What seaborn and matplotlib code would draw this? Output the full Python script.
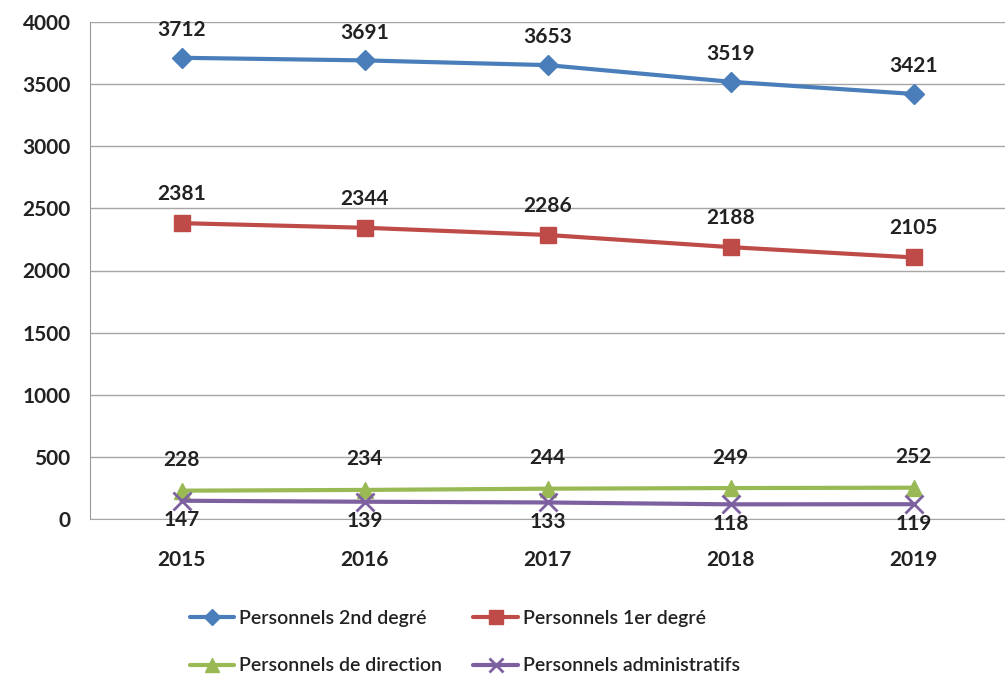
import numpy as np
import pandas as pd
import matplotlib
matplotlib.use("Agg")
import matplotlib.pyplot as plt
import seaborn as sns

years = ["2015", "2016", "2017", "2018", "2019"]
second_degre = [3712, 3691, 3653, 3519, 3421]
premier_degre = [2381, 2344, 2286, 2188, 2105]
direction = [228, 234, 244, 249, 252]
administratifs = [147, 139, 133, 118, 119]

series_names = ["Personnels 2nd degré", "Personnels 1er degré",
                "Personnels de direction", "Personnels administratifs"]

sns.set_style("white")
plt.rcParams["font.family"] = ["Lato", "DejaVu Sans"]

fig = plt.figure(figsize=(10.05, 6.77), dpi=100)
ax = fig.add_axes([90 / 1005, 1 - 519 / 677, 1 - 90 / 1005, (519 - 22) / 677])

x = np.arange(len(years))
styles = [
    (second_degre, "#4a7ebb", "D", 10, 1.0, 20),
    (premier_degre, "#be4b48", "s", 12, 1.0, 21),
    (direction, "#98b954", "^", 12, 1.0, 22),
    (administratifs, "#7d60a0", "x", 13, 2.0, -14),
]

handles = []
for (vals, color, marker, ms, mew, offset), name in zip(styles, series_names):
    df = pd.DataFrame({"x": x, "y": vals})
    sns.lineplot(data=df, x="x", y="y", ax=ax, color=color, linewidth=3,
                 marker=marker, markersize=ms, markeredgewidth=mew,
                 markeredgecolor=color, label=name, legend=False)
    for xi, v in zip(x, vals):
        ax.annotate(str(v), (xi, v), xytext=(0, offset), textcoords="offset points",
                    ha="center", va="center", fontsize=15, fontweight="bold",
                    color="#222222")
    handles.append(ax.lines[-1])

ax.set_xlim(-0.5, 4.5)
ax.set_ylim(0, 4000)
ax.set_yticks(range(0, 4001, 500))
ax.set_xticks(x)
ax.set_xticklabels(years)
ax.set_xticks(np.arange(-0.5, 4.6, 1), minor=True)
ax.tick_params(axis="x", which="major", length=0, pad=22)
ax.tick_params(axis="x", which="minor", length=6, color="#999999")
ax.tick_params(axis="y", length=8, color="#999999", pad=6)
for lab in ax.get_xticklabels() + ax.get_yticklabels():
    lab.set_fontsize(15)
    lab.set_fontweight("bold")
    lab.set_color("#222222")
ax.set_xlabel("")
ax.set_ylabel("")
ax.grid(axis="y", color="#a6a6a6", linewidth=1)
for side in ["top", "right"]:
    ax.spines[side].set_visible(False)
ax.spines["left"].set_color("#999999")
ax.spines["bottom"].set_color("#a6a6a6")

order = [0, 2, 1, 3]
leg = fig.legend([handles[i] for i in order], [series_names[i] for i in order],
                 loc="lower left", bbox_to_anchor=(172 / 1005, -0.022), ncol=2,
                 frameon=False, fontsize=14, handlelength=2.3, columnspacing=1.6,
                 labelspacing=1.55, handletextpad=0.25, markerscale=0.8)
for t in leg.get_texts():
    t.set_fontweight("semibold")
    t.set_color("#222222")

fig.savefig("out.png", dpi=100, facecolor="white")
